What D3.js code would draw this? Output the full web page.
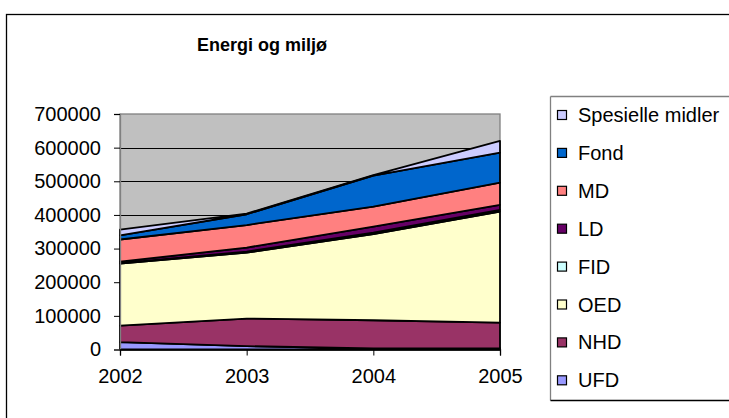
<!DOCTYPE html>
<html>
<head>
<meta charset="utf-8">
<script src="https://cdn.jsdelivr.net/npm/d3@7"></script>
<style>
  body { margin: 0; background: #fff; }
  svg { display: block; font-family: "Liberation Sans", Arial, sans-serif; }
</style>
</head>
<body>
<svg></svg>
<script>
// data (stacked bottom to top)
var years = ["2002", "2003", "2004", "2005"];
var seriesNames = ["UFD", "NHD", "OED", "FID", "LD", "MD", "Fond", "Spesielle midler"];
var UFD = [22000, 10000, 3000, 4000];
var NHD = [49000, 82000, 84000, 76000];
var OED = [184000, 196000, 256000, 330000];
var FID = [2000, 3000, 4000, 5000];
var LD = [4000, 12000, 18000, 15000];
var MD = [66000, 67000, 60000, 66000];
var Fond = [12000, 32000, 92000, 89000];
var Spesielle = [17000, 2000, 1000, 35000];
var yTicks = [0, 100000, 200000, 300000, 400000, 500000, 600000, 700000];

var colors = {
    "UFD": "#9999FF", "NHD": "#993366", "OED": "#FFFFCC", "FID": "#CCFFFF",
    "LD": "#660066", "MD": "#FF8080", "Fond": "#0066CC", "Spesielle midler": "#CCCCFF"
};
var valuesByName = {
    "UFD": UFD, "NHD": NHD, "OED": OED, "FID": FID,
    "LD": LD, "MD": MD, "Fond": Fond, "Spesielle midler": Spesielle
};

var rows = years.map(function (yr, i) {
    var r = { year: yr };
    seriesNames.forEach(function (n) { r[n] = valuesByName[n][i]; });
    return r;
});

var WIDTH = 729, HEIGHT = 418;
var svg = d3.select("svg").attr("width", WIDTH).attr("height", HEIGHT);

// chart border
svg.append("rect")
    .attr("x", 6.5).attr("y", 14.5)
    .attr("width", 740).attr("height", 420)
    .attr("fill", "#fff").attr("stroke", "#000").attr("stroke-width", 1.3);

// title
svg.append("text")
    .attr("x", 262).attr("y", 51)
    .attr("text-anchor", "middle")
    .attr("font-size", 18).attr("font-weight", "bold")
    .text("Energi og miljø");

var plot = { left: 120, right: 500, top: 114, bottom: 349.5 };

var x = d3.scalePoint().domain(years).range([plot.left, plot.right]);
var y = d3.scaleLinear().domain([0, 700000]).range([plot.bottom, plot.top]);

// plot background
svg.append("rect")
    .attr("x", plot.left).attr("y", plot.top)
    .attr("width", plot.right - plot.left).attr("height", plot.bottom - plot.top)
    .attr("fill", "#C0C0C0").attr("stroke", "#808080").attr("stroke-width", 1.3);

// gridlines
svg.append("g").selectAll("line")
    .data(yTicks.slice(1, -1))
    .enter().append("line")
    .attr("x1", plot.left).attr("x2", plot.right)
    .attr("y1", function (d) { return Math.round(y(d)) + 0.5; })
    .attr("y2", function (d) { return Math.round(y(d)) + 0.5; })
    .attr("stroke", "#000").attr("stroke-width", 1);

// stacked areas
var stack = d3.stack().keys(seriesNames);
var layers = stack(rows);

var area = d3.area()
    .x(function (d) { return x(d.data.year); })
    .y0(function (d) { return y(d[0]); })
    .y1(function (d) { return y(d[1]); });

svg.append("g").selectAll("path")
    .data(layers)
    .enter().append("path")
    .attr("d", area)
    .attr("fill", function (d) { return colors[d.key]; })
    .attr("stroke", "#000")
    .attr("stroke-width", 1.8)
    .attr("stroke-linejoin", "round");

// axes
var yAxis = svg.append("g")
    .attr("transform", "translate(" + plot.left + ",0)")
    .call(d3.axisLeft(y).tickValues(yTicks).tickSize(6).tickPadding(13).tickFormat(d3.format("d")));
yAxis.select(".domain").attr("stroke", "#808080").attr("stroke-width", 1.3);
yAxis.selectAll("text").attr("font-size", 20).attr("fill", "#000")
    .attr("font-family", "Liberation Sans, Arial, sans-serif");

var xAxis = svg.append("g")
    .attr("transform", "translate(0," + plot.bottom + ")")
    .call(d3.axisBottom(x).tickSize(6).tickPadding(13));
xAxis.select(".domain").attr("stroke", "#000").attr("stroke-width", 1.3);
xAxis.selectAll("text").attr("font-size", 20).attr("fill", "#000")
    .attr("font-family", "Liberation Sans, Arial, sans-serif");

// legend
var legend = svg.append("g");
legend.append("line")
    .attr("x1", 550.5).attr("x2", 550.5).attr("y1", 96.5).attr("y2", 400.5)
    .attr("stroke", "#808080").attr("stroke-width", 1.3);
legend.append("line")
    .attr("x1", 550.5).attr("x2", 740).attr("y1", 96.5).attr("y2", 96.5)
    .attr("stroke", "#808080").attr("stroke-width", 1.3);
legend.append("line")
    .attr("x1", 550.5).attr("x2", 740).attr("y1", 400.5).attr("y2", 400.5)
    .attr("stroke", "#000").attr("stroke-width", 1.3);

var legendNames = seriesNames.slice().reverse();
var items = legend.selectAll(".item")
    .data(legendNames)
    .enter().append("g")
    .attr("class", "item")
    .attr("transform", function (d, i) { return "translate(557," + (115 + i * 37.9) + ")"; });

items.append("rect")
    .attr("x", 0.5).attr("y", -4.5)
    .attr("width", 9).attr("height", 9)
    .attr("fill", function (d) { return colors[d]; })
    .attr("stroke", "#000").attr("stroke-width", 1.2);

items.append("text")
    .attr("x", 21).attr("y", 7)
    .attr("font-size", 20)
    .text(function (d) { return d; });
</script>
</body>
</html>
